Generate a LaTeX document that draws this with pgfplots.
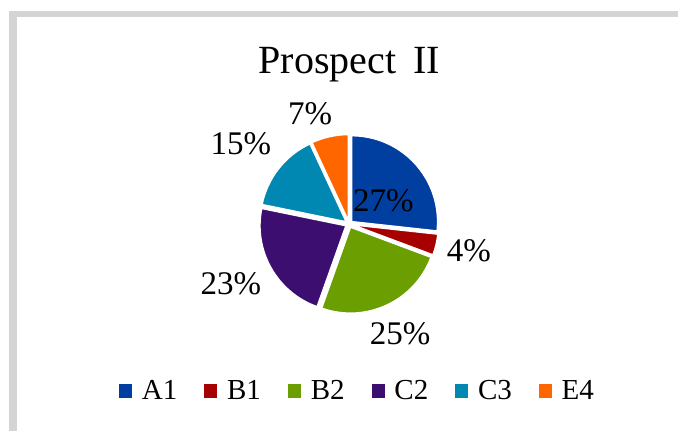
\documentclass[border=0pt]{standalone}
\usepackage{fontspec}
\setmainfont{Liberation Serif}
\usepackage{pgfplots}
\pgfplotsset{compat=1.18}
\definecolor{cA}{RGB}{0,63,160}
\definecolor{cB}{RGB}{166,0,0}
\definecolor{cC}{RGB}{107,158,0}
\definecolor{cD}{RGB}{59,14,112}
\definecolor{cE}{RGB}{0,135,178}
\definecolor{cF}{RGB}{255,102,0}
\definecolor{frame}{RGB}{212,212,212}
\def\total{101}
\def\cum{0}
% one pie slice: value, colour
\newcommand\slice[2]{%
  \pgfmathsetmacro\sa{90-\cum/\total*360}%
  \pgfmathsetmacro\sb{90-(\cum+#1)/\total*360}%
  \pgfmathsetmacro\sm{(\sa+\sb)/2}%
  \edef\doit{\noexpand\fill[#2, draw=white, line width=0.75pt, line join=round]
    (axis cs:349,207) ++(\sm:1.75pt) -- ++(\sa:43pt)
    arc[start angle=\sa, end angle=\sb, radius=43pt] -- cycle;}%
  \doit
  \pgfmathsetmacro\cumnew{\cum+#1}%
  \xdef\cum{\cumnew}%
}
\begin{document}
\begin{tikzpicture}
\begin{axis}[
  scale only axis, width=339pt, height=215.5pt,
  xmin=0, xmax=678, ymin=0, ymax=431,
  hide axis, clip=false,
  legend columns=6,
  legend style={draw=none, fill=none, at={(axis cs:356.5,40)}, anchor=center,
    font=\fontsize{14.5pt}{16pt}\selectfont,
    column sep=5pt,
    /tikz/every even column/.append style={column sep=13.5pt},
    nodes={inner sep=0pt, anchor=west}},
]
% frame bands
\fill[frame] (axis cs:9,420.3) rectangle (axis cs:678,414.3);
\fill[frame] (axis cs:9,420.3) rectangle (axis cs:16.7,0);
% pie slices (values in %)
\slice{27}{cA}
\slice{4}{cB}
\slice{25}{cC}
\slice{23}{cD}
\slice{15}{cE}
\slice{7}{cF}
% title
\node[anchor=base, font=\fontsize{20pt}{24pt}\selectfont] at (axis cs:349.2,357.7) {Prospect\, II};
% percent labels
\node[anchor=base, font=\fontsize{16.5pt}{20pt}\selectfont] at (axis cs:383.3,219.3) {27\%};
\node[anchor=base, font=\fontsize{16.5pt}{20pt}\selectfont] at (axis cs:468.8,169.3) {4\%};
\node[anchor=base, font=\fontsize{16.5pt}{20pt}\selectfont] at (axis cs:400,86) {25\%};
\node[anchor=base, font=\fontsize{16.5pt}{20pt}\selectfont] at (axis cs:230.8,136) {23\%};
\node[anchor=base, font=\fontsize{16.5pt}{20pt}\selectfont] at (axis cs:240.8,276) {15\%};
\node[anchor=base, font=\fontsize{16.5pt}{20pt}\selectfont] at (axis cs:310,306) {7\%};
% legend
\addlegendimage{legend image code/.code={\fill[cA] (0pt,-3.3pt) rectangle (6pt,3.3pt);}}
\addlegendentry{A1}
\addlegendimage{legend image code/.code={\fill[cB] (0pt,-3.3pt) rectangle (6pt,3.3pt);}}
\addlegendentry{B1}
\addlegendimage{legend image code/.code={\fill[cC] (0pt,-3.3pt) rectangle (6pt,3.3pt);}}
\addlegendentry{B2}
\addlegendimage{legend image code/.code={\fill[cD] (0pt,-3.3pt) rectangle (6pt,3.3pt);}}
\addlegendentry{C2}
\addlegendimage{legend image code/.code={\fill[cE] (0pt,-3.3pt) rectangle (6pt,3.3pt);}}
\addlegendentry{C3}
\addlegendimage{legend image code/.code={\fill[cF] (0pt,-3.3pt) rectangle (6pt,3.3pt);}}
\addlegendentry{E4}
\end{axis}
\pgfresetboundingbox
\path (0,0) rectangle (339pt,215.5pt);
\end{tikzpicture}
\end{document}
